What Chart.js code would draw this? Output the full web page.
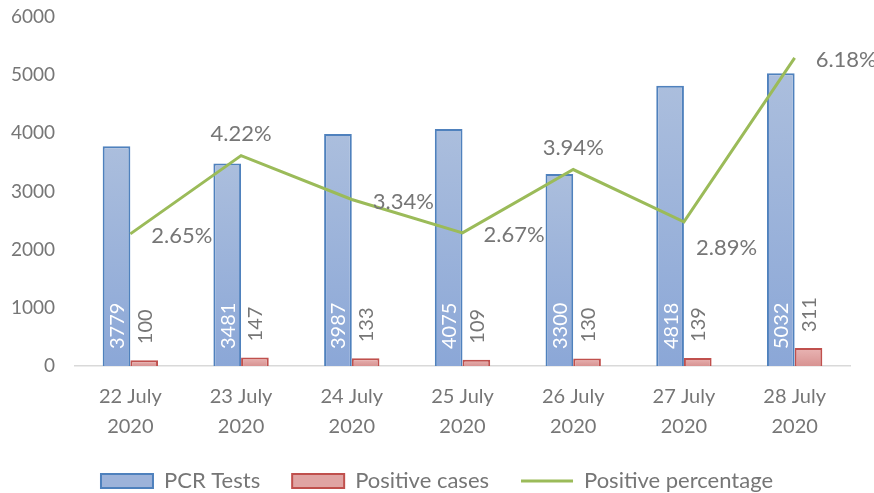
<!DOCTYPE html>
<html>
<head>
    <meta charset="UTF-8">
    <title>PCR Tests and Positive cases</title>
    <script src="https://cdn.jsdelivr.net/npm/chart.js"></script>
    <style>
        html, body { margin: 0; padding: 0; background: #fff; }
        #wrap { width: 874px; height: 493px; }
    </style>
</head>
<body>
    <div id="wrap"><canvas id="chartPcr"></canvas></div>
    <script>
        // Data
        const days = [['22 July', '2020'], ['23 July', '2020'], ['24 July', '2020'], ['25 July', '2020'],
                      ['26 July', '2020'], ['27 July', '2020'], ['28 July', '2020']];
        const pcrTests = [3779, 3481, 3987, 4075, 3300, 4818, 5032];
        const positiveCases = [100, 147, 133, 109, 130, 139, 311];
        const positivePct = [2.65, 4.22, 3.34, 2.67, 3.94, 2.89, 6.18];
        const yTicks = [0, 1000, 2000, 3000, 4000, 5000, 6000];

        // where each percentage label sits relative to its point
        const pctLabelPos = ['right', 'above', 'right', 'right', 'above', 'belowright', 'right'];

        const grey = '#767676';
        const font = 'Lato, "Open Sans", sans-serif';

        // gradient from top of each bar to the baseline
        function barFill(light, dark, solid) {
            return function (c) {
                const chart = c.chart;
                const y = chart.scales && chart.scales.y;
                if (!chart.chartArea || !y || c.raw === undefined) return solid;
                const top = y.getPixelForValue(c.raw);
                const bot = y.getPixelForValue(0);
                if (!isFinite(top) || !isFinite(bot) || top === bot) return solid;
                const g = chart.ctx.createLinearGradient(0, top, 0, bot);
                g.addColorStop(0, light);
                g.addColorStop(1, dark);
                return g;
            };
        }

        // value labels drawn on top of the datasets
        const valueLabels = {
            id: 'valueLabels',
            afterDatasetsDraw(chart) {
                const ctx = chart.ctx;
                ctx.save();
                ctx.font = '20px ' + font;
                // bar labels, rotated
                [0, 1].forEach(function (di) {
                    const meta = chart.getDatasetMeta(di);
                    meta.data.forEach(function (bar, i) {
                        const val = chart.data.datasets[di].data[i];
                        ctx.save();
                        if (di === 0) {
                            ctx.fillStyle = '#ffffff';
                            ctx.translate(bar.x, bar.base - 17);
                        } else {
                            ctx.fillStyle = grey;
                            ctx.translate(bar.x, bar.y - 16);
                        }
                        ctx.rotate(-Math.PI / 2);
                        ctx.textAlign = 'left';
                        ctx.textBaseline = 'middle';
                        ctx.fillText(String(val), 0, 1);
                        ctx.restore();
                    });
                });
                // percentage labels
                ctx.font = '22px ' + font;
                ctx.fillStyle = grey;
                ctx.textBaseline = 'middle';
                const lineMeta = chart.getDatasetMeta(2);
                lineMeta.data.forEach(function (pt, i) {
                    const txt = positivePct[i].toFixed(2) + '%';
                    const pos = pctLabelPos[i];
                    if (pos === 'above') {
                        ctx.textAlign = 'center';
                        ctx.fillText(txt, pt.x, pt.y - 22);
                    } else if (pos === 'belowright') {
                        ctx.textAlign = 'left';
                        ctx.fillText(txt, pt.x + 12, pt.y + 26);
                    } else {
                        ctx.textAlign = 'left';
                        ctx.fillText(txt, pt.x + 21, pt.y + 2);
                    }
                });
                ctx.restore();
            }
        };

        const config = {
            type: 'bar',
            data: {
                labels: days,
                datasets: [{
                    label: 'PCR Tests',
                    data: pcrTests,
                    backgroundColor: barFill('#abbedd', '#8ba7d7', '#9db3da'),
                    borderColor: '#4f81bd',
                    borderWidth: 2,
                    borderSkipped: 'bottom',
                    categoryPercentage: 0.5,
                    barPercentage: 1,
                    yAxisID: 'y',
                    order: 2
                }, {
                    label: 'Positive cases',
                    data: positiveCases,
                    backgroundColor: barFill('#e9b5b4', '#d89392', '#e0a4a3'),
                    borderColor: '#c0504d',
                    borderWidth: 2,
                    borderSkipped: 'bottom',
                    categoryPercentage: 0.5,
                    barPercentage: 1,
                    yAxisID: 'y',
                    order: 2
                }, {
                    type: 'line',
                    label: 'Positive percentage',
                    data: positivePct,
                    borderColor: '#9bbb59',
                    backgroundColor: '#9bbb59',
                    borderWidth: 3,
                    pointRadius: 0,
                    pointStyle: 'line',
                    tension: 0,
                    yAxisID: 'y1',
                    order: 1
                }]
            },
            options: {
                responsive: true,
                maintainAspectRatio: false,
                animation: false,
                layout: { padding: { top: 17, right: 0, left: 0, bottom: -9 } },
                plugins: {
                    tooltip: { enabled: false },
                    legend: {
                        position: 'bottom',
                        labels: {
                            usePointStyle: true,
                            pointStyleWidth: 52,
                            boxHeight: 14,
                            padding: 32,
                            color: grey,
                            font: { family: font, size: 22 },
                            sort: (a, b) => a.datasetIndex - b.datasetIndex,
                            generateLabels(chart) {
                                const items = Chart.defaults.plugins.legend.labels.generateLabels(chart);
                                items.forEach(function (it) {
                                    if (it.datasetIndex === 0) { it.fillStyle = '#9db3da'; it.pointStyle = 'rect'; }
                                    if (it.datasetIndex === 1) { it.fillStyle = '#e0a4a3'; it.pointStyle = 'rect'; }
                                    if (it.datasetIndex === 2) { it.pointStyle = 'line'; it.lineWidth = 3; }
                                });
                                return items;
                            }
                        }
                    }
                },
                scales: {
                    x: {
                        afterFit(axis) { axis.height = 72; },
                        grid: { display: false, drawTicks: false },
                        border: { display: true, color: '#d9d9d9', width: 1.5 },
                        ticks: {
                            color: grey,
                            padding: 16,
                            maxRotation: 0,
                            font: { family: font, size: 20, lineHeight: 1.5 }
                        }
                    },
                    y: {
                        min: 0,
                        max: 6000,
                        afterBuildTicks(axis) { axis.ticks = yTicks.map(v => ({ value: v })); },
                        afterFit(axis) {
                            axis.width = 75;
                            axis.paddingTop = 0;
                            axis.paddingBottom = 0;
                        },
                        grid: { display: false, drawTicks: false },
                        border: { display: false },
                        ticks: {
                            color: grey,
                            padding: 20,
                            font: { family: font, size: 19 },
                            callback: v => String(v)
                        }
                    },
                    // hidden right axis for the percentages; it only takes up the right margin
                    y1: {
                        display: true,
                        position: 'right',
                        min: 0,
                        max: 7,
                        afterFit(axis) {
                            axis.width = 24;
                            axis.paddingTop = 0;
                            axis.paddingBottom = 0;
                        },
                        grid: { display: false, drawTicks: false },
                        border: { display: false },
                        ticks: { display: false }
                    }
                }
            },
            plugins: [valueLabels]
        };

        new Chart(document.getElementById('chartPcr').getContext('2d'), config);
    </script>
</body>
</html>
